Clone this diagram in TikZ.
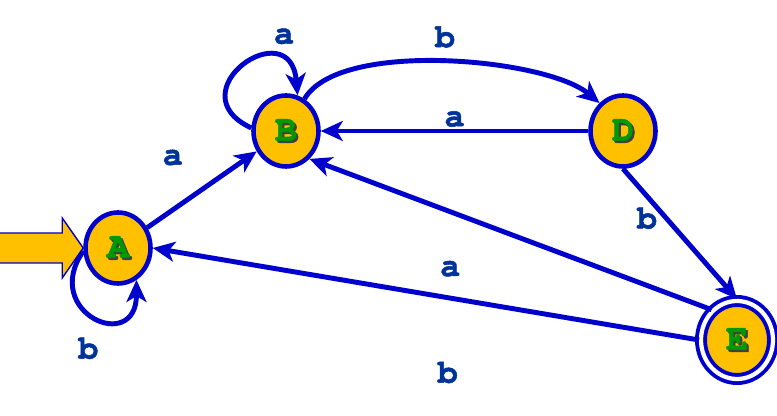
\documentclass[tikz,border=0pt]{standalone}
\usepackage{fontspec}
\setmonofont{texgyrecursor}[Extension=.otf, UprightFont=*-regular, BoldFont=*-bold, BoldFeatures={FakeBold=1.5}]
\usepackage{tikz}
\usetikzlibrary{arrows.meta,positioning,shapes.geometric}

\definecolor{stroke}{RGB}{0,0,204}
\definecolor{gold}{RGB}{255,192,0}
\definecolor{lblblue}{RGB}{0,51,153}
\definecolor{stgreen}{RGB}{0,153,0}
\newcommand{\stname}[1]{\rlap{\hspace{1.2pt}\raisebox{-1.2pt}{\textcolor{black!75}{#1}}}\textcolor{stgreen}{#1}}

\begin{document}
\begin{tikzpicture}[
    every node/.style={font=\ttfamily\bfseries\fontsize{19}{19}\selectfont},
    state/.style={ellipse, draw=stroke, line width=2.6pt, fill=gold,
        minimum width=1.3cm, minimum height=1.42cm, inner sep=0pt,
        font=\ttfamily\bfseries\fontsize{21}{21}\selectfont},
    accept/.style={state, double=white, double distance=2.4pt, line width=2.2pt,
        minimum width=1.44cm, minimum height=1.56cm},
    edge/.style={draw=stroke, line width=2.8pt,
        -{Stealth[length=4.4mm, width=4mm, inset=1.2mm]}},
    lbl/.style={text=lblblue, inner sep=1pt},
    startarrow/.style={fill=gold, draw=stroke, line width=0.8pt}]
\useasboundingbox (0,0) rectangle (15.54,8.32);
\node[state]  (A) at (2.36,3.36)  {\stname{A}};
\node[state]  (B) at (5.72,5.70)  {\stname{B}};
\node[state]  (D) at (12.46,5.70) {\stname{D}};
\node[accept] (E) at (14.74,1.52) {\stname{E}};
\draw[startarrow] (A.west) -- ++(-0.42,0.6) -- ++(0,-0.3) -- ++(-1.3,0)
    -- ++(0,-0.6) -- ++(1.3,0) -- ++(0,-0.3) -- cycle;
\draw[edge] (A) -- node[lbl, above left=4mm and 3mm] {a} (B);
\draw[edge] (A.185) .. controls +(235:1.5) and +(-90:1.5) .. node[lbl, below=4mm, pos=0.45] {b} (A.-60);
\draw[edge] (B.175) .. controls +(155:1.7) and +(95:1.7) .. node[lbl, above right=2mm and 0mm, pos=0.7] {a} (B.72);
\draw[edge] (B.60) to[out=60, in=140, looseness=0.6] node[lbl, above=2mm] {b} (D.130);
\draw[edge] (D) -- node[lbl, above] {a} (B);
\draw[edge] (D.south) -- node[lbl, left=1mm, pos=0.38] {b} (E.north);
\draw[edge] (E.130) -- node[lbl, below=9mm, pos=0.65] {a} (B.-50);
\draw[edge] (E.west) -- node[lbl, below=12mm, pos=0.46] {b} (A.east);
\end{tikzpicture}
\end{document}
